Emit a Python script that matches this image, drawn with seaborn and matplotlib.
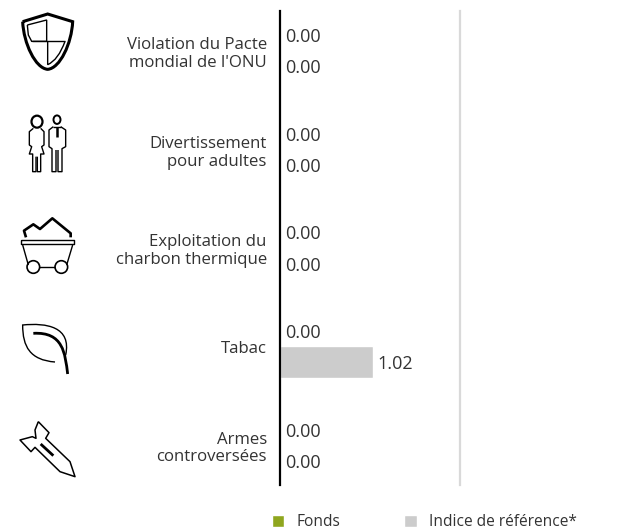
import pandas as pd
import seaborn as sns
import matplotlib.pyplot as plt
from matplotlib.path import Path
from matplotlib.patches import PathPatch, Circle, Ellipse
from matplotlib.transforms import ScaledTranslation

categories = ["Violation du Pacte\nmondial de l'ONU", "Divertissement\npour adultes",
              "Exploitation du\ncharbon thermique", "Tabac", "Armes\ncontroversées"]
fonds = [0.00, 0.00, 0.00, 0.00, 0.00]
indice = [0.00, 0.00, 0.00, 1.02, 0.00]
series_names = ["Fonds", "Indice de référence*"]
colors = ["#8fa61e", "#cccccc"]

df = pd.DataFrame({
    'categorie': categories * 2,
    'valeur': fonds + indice,
    'serie': [series_names[0]] * 5 + [series_names[1]] * 5,
})

W, H = 627, 530
sns.set_theme(style='white')
plt.rcParams['font.family'] = ['Open Sans', 'DejaVu Sans']
text_col = '#333333'

fig = plt.figure(figsize=(W / 100, H / 100), dpi=100)
ax = fig.add_axes([280 / W, 1 - 485 / H, 180 / W, 474 / H])

sns.barplot(data=df, y='categorie', x='valeur', hue='serie', palette=colors,
            width=0.63, saturation=1, ax=ax, order=categories, hue_order=series_names)

ax.set_xlim(0, 1.98)
ax.set_ylim(4.405, -0.403)
ax.set_xlabel('')
ax.set_ylabel('')
ax.set_xticks([])
ax.tick_params(axis='y', length=0, pad=9.5, labelsize=12.1, labelcolor=text_col)
for lab in ax.get_yticklabels():
    lab.set_linespacing(1.15)
    lab.set_ha('right')
    lab.set_multialignment('right')
    lab.set_transform(lab.get_transform() + ScaledTranslation(0, -0.5 / 100, fig.dpi_scale_trans))

for c in ax.containers:
    for ann in ax.bar_label(c, fmt='%.2f', padding=3.5, fontsize=13, color=text_col):
        ann.xyann = (3.5, -1.5)

sns.despine(ax=ax, top=True, bottom=True, left=False, right=False)
ax.spines['left'].set_color('black')
ax.spines['left'].set_linewidth(1.6)
ax.spines['right'].set_color('#d9d9d9')
ax.spines['right'].set_linewidth(1.6)

handles, labels = ax.get_legend_handles_labels()
ax.legend(handles, labels, ncol=2, frameon=False, loc='center left',
          bbox_to_anchor=(272 / W, 1 - 522.5 / H), bbox_transform=fig.transFigure,
          borderpad=0, borderaxespad=0, handlelength=0.8, handleheight=0.8,
          handletextpad=0.8, columnspacing=4.07, fontsize=11.2, labelcolor=text_col)

# icons, traced in pixel space over the whole figure
ic = fig.add_axes([0, 0, 1, 1], facecolor='none')
ic.set_xlim(0, W)
ic.set_ylim(H, 0)
ic.axis('off')


def pt(x, y, oy):
    return (x / 3, oy + y / 3)


def stroke(pts, oy=0, lw=1.2, closed=False):
    xy = [pt(x, y, oy) for x, y in pts]
    if closed:
        xy.append(xy[0])
    ic.plot([p[0] for p in xy], [p[1] for p in xy], color='black', lw=lw,
            solid_joinstyle='round', solid_capstyle='butt')


def curve(verts, codes, oy=0, lw=1.2):
    xy = [pt(x, y, oy) for x, y in verts]
    ic.add_patch(PathPatch(Path(xy, codes), fc='none', ec='black', lw=lw))


M, L, C = Path.MOVETO, Path.LINETO, Path.CURVE4
Q = Path.CURVE3

# shield
curve([(68, 65), (143, 42), (218, 65), (215, 130), (180, 205), (143, 208), (106, 205), (71, 130), (68, 65)],
      [M, L, L, C, C, C, C, C, C], lw=2.2)
curve([(82, 75), (140, 60), (140, 124), (95, 124), (85, 105), (82, 75)], [M, L, L, L, L, L], lw=1.0)
stroke([(95, 124), (195, 124)], lw=1.0)
curve([(143, 124), (143, 194), (175, 180), (195, 124)], [M, L, Q, Q], lw=1.0)

# woman and man
ic.add_patch(Ellipse(pt(111, 365, 0), 11, 12, fc='none', ec='black', lw=1.6))
stroke([(100, 385), (88, 395), (88, 435), (95, 440), (88, 462), (98, 462), (98, 515), (108, 515), (108, 470)], lw=1.0)
stroke([(122, 385), (132, 395), (132, 435), (125, 440), (132, 462), (122, 462), (122, 515), (112, 515), (112, 470)], lw=1.0)
ic.add_patch(Ellipse(pt(171, 359, 0), 7, 8.5, fc='none', ec='black', lw=1.4))
stroke([(160, 380), (147, 390), (147, 440), (156, 446), (156, 515), (168, 515), (168, 450)], lw=1.0)
stroke([(182, 380), (197, 390), (197, 440), (186, 446), (186, 515), (174, 515), (174, 450)], lw=1.0)
stroke([(160, 380), (182, 380)], lw=1.0)
stroke([(171, 382), (171, 410)], lw=1.8)

# coal cart
oy = 190
stroke([(78, 142), (72, 122), (100, 103), (120, 117), (157, 85), (212, 130), (212, 142)], oy, lw=1.9)
stroke([(64, 150), (222, 150), (222, 163), (64, 163)], oy, lw=1.0, closed=True)
stroke([(68, 165), (85, 225)], oy, lw=1.0)
stroke([(218, 165), (200, 225)], oy, lw=1.0)
stroke([(118, 230), (165, 230)], oy, lw=1.0)
for wx in (100, 184):
    ic.add_patch(Circle(pt(wx, 231, oy), 6.3, fc='none', ec='black', lw=1.2))

# leaf
curve([(165, 516), (90, 510), (68, 470), (68, 405), (140, 398), (215, 410), (197, 495)],
      [M, C, C, C, C, C, C], oy, lw=1.0)
curve([(100, 430), (190, 425), (195, 490), (203, 552)], [M, C, C, C], oy, lw=2.0)

# rocket
stroke([(115, 695), (147, 728), (137, 745), (210, 815), (225, 860), (180, 845), (105, 772), (93, 785),
        (60, 750), (97, 740), (108, 745), (105, 720)], oy, lw=1.1, closed=True)
stroke([(122, 762), (160, 797)], oy, lw=2.0)

plt.savefig('out.png', dpi=100)
